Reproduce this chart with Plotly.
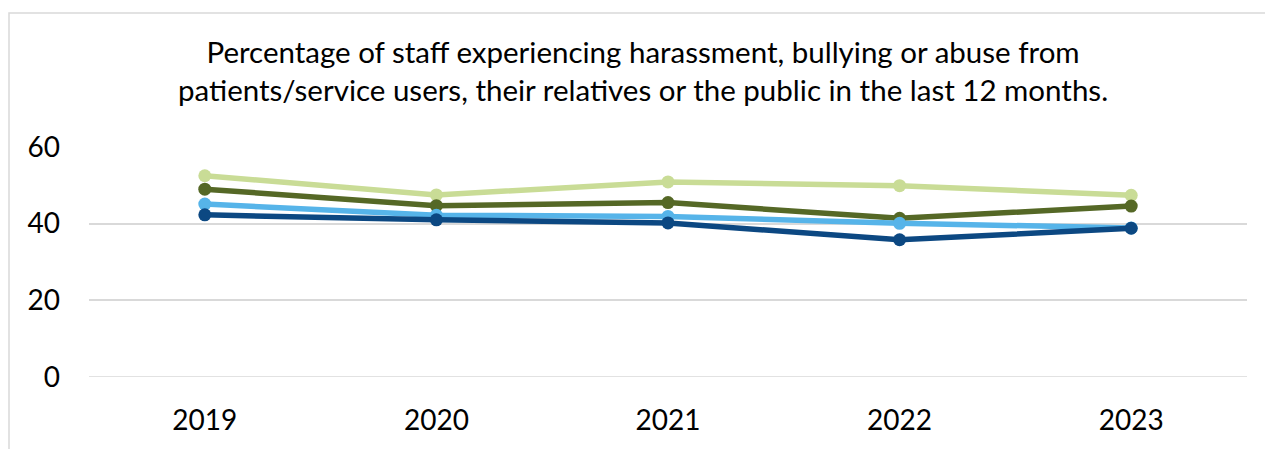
import plotly.graph_objects as go

# Survey years and the share of staff (%) reporting harassment, bullying or abuse
years = ["2019", "2020", "2021", "2022", "2023"]
series_names = ["Group A", "Group B", "Group C", "Group D"]
group_a = [52.5, 47.5, 50.9, 49.9, 47.4]
group_b = [49.0, 44.7, 45.5, 41.4, 44.6]
group_c = [45.1, 42.2, 41.9, 40.1, 38.9]
group_d = [42.3, 41.0, 40.2, 35.8, 38.8]
colors = ["#C9DC96", "#556826", "#56B4E9", "#0C4882"]
y_ticks = [0, 20, 40, 60]

title_text = ("Percentage of staff experiencing harassment, bullying or abuse from<br>"
              "patients/service users, their relatives or the public in the last 12 months.")

fig = go.Figure()
for name, vals, col in zip(series_names, [group_a, group_b, group_c, group_d], colors):
    fig.add_trace(go.Scatter(
        x=years, y=vals, name=name, mode="lines+markers",
        line=dict(color=col, width=5.5),
        marker=dict(color=col, size=13),
        showlegend=False,
    ))

# Plot area spans x 89..1247, y 147..377 (px)
L, R, T, B = 89, 18, 147, 72
W, H = 1265, 449
pw, ph = W - L - R, H - T - B

def px_x(x):
    return (x - L) / pw

def px_y(y):
    return (H - B - y) / ph

fig.update_layout(
    width=W, height=H,
    margin=dict(l=L, r=R, t=T, b=B),
    paper_bgcolor="white", plot_bgcolor="white",
    font=dict(family="Lato, Open Sans, sans-serif", color="#000000"),
    xaxis=dict(
        type="category", range=[-0.5, len(years) - 0.5],
        showgrid=False, zeroline=False, showline=False,
        tickfont=dict(size=28, color="#000000"),
        ticklabelstandoff=24,
    ),
    yaxis=dict(
        range=[0, 60], tickvals=y_ticks,
        showgrid=True, gridcolor="#D9D9D9", gridwidth=1.5,
        zeroline=False, showline=False,
        tickfont=dict(size=28, color="#000000"),
        ticklabelstandoff=28,
    ),
    shapes=[
        # outer chart frame (continues past the right and bottom edges)
        dict(type="rect", xref="paper", yref="paper",
             x0=px_x(9), x1=px_x(1275), y0=px_y(460), y1=px_y(13),
             line=dict(color="#D9D9D9", width=1.5), fillcolor="rgba(0,0,0,0)",
             layer="below"),
        # baseline at zero
        dict(type="line", xref="paper", yref="y", x0=0, x1=1, y0=0, y1=0,
             line=dict(color="#D9D9D9", width=1.5), layer="below"),
    ],
    annotations=[
        dict(text=title_text, xref="paper", yref="paper",
             x=px_x(643), y=px_y(71), xanchor="center", yanchor="middle",
             showarrow=False, align="center",
             font=dict(size=29.5, color="#000000", family="Lato, Open Sans, sans-serif")),
    ],
)

fig.write_html("out.html")
